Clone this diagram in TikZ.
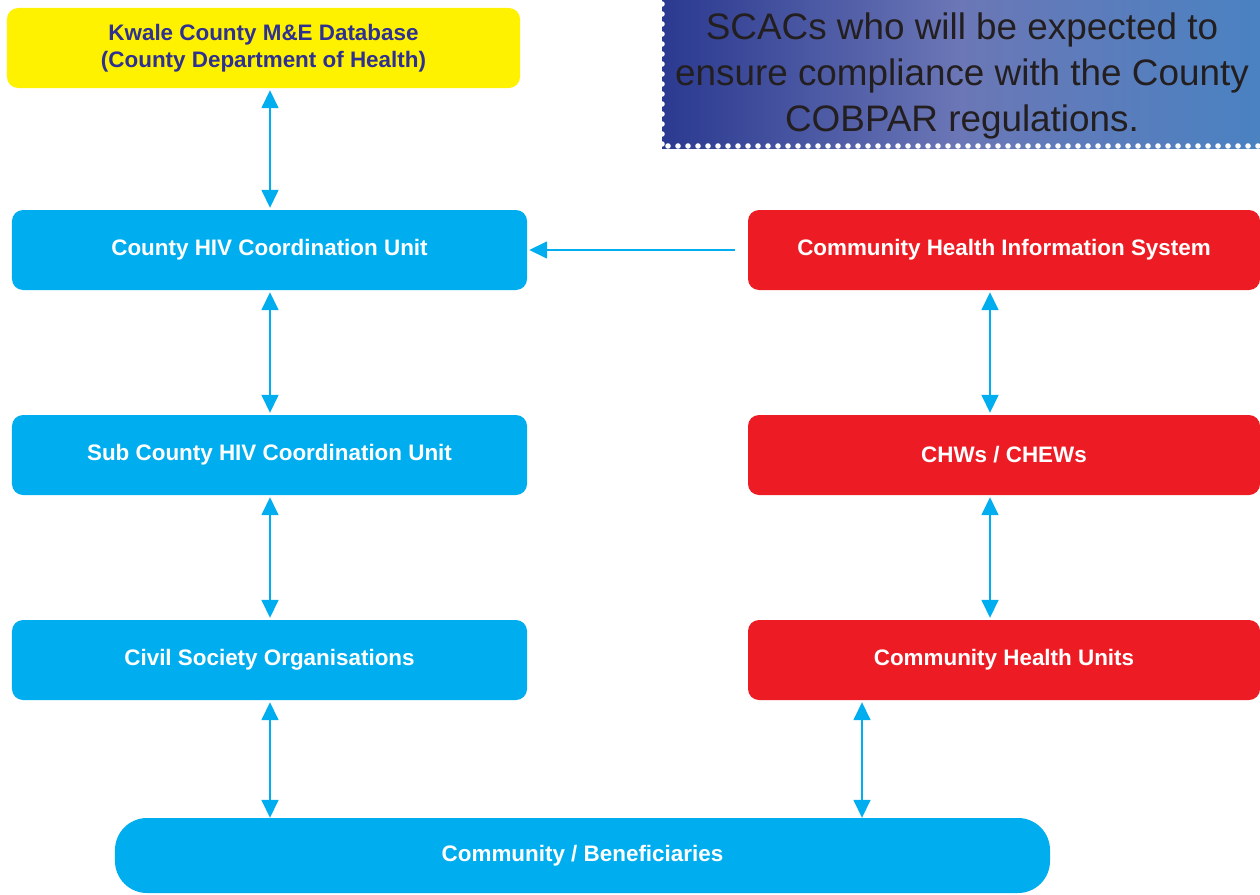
\documentclass[tikz,border=0pt]{standalone}
\usepackage{fontspec}
\setmainfont{Liberation Sans}
\usetikzlibrary{arrows.meta}
\definecolor{cy}{HTML}{00AEEF}
\definecolor{rd}{HTML}{ED1C24}
\definecolor{yl}{HTML}{FFF200}
\definecolor{nv}{HTML}{2E3192}
\definecolor{gL}{HTML}{2B3990}
\definecolor{gM}{HTML}{6B77B6}
\definecolor{gR}{HTML}{4A82C2}
\definecolor{tx}{HTML}{231F20}
\tikzset{
  box/.style={rounded corners=11bp, minimum width=515bp, minimum height=80bp, inner sep=0pt,
    text=white, font=\fontsize{22.5}{27}\selectfont\bfseries},
  bluebox/.style={box, fill=cy},
  redbox/.style={box, fill=rd, minimum width=512bp},
  yelbox/.style={box, fill=yl, text=nv, minimum width=513bp, align=center},
  conn/.style={draw=cy, line width=1.6bp,
    {Triangle[length=18bp,width=17bp]}-{Triangle[length=18bp,width=17bp]}},
  oneway/.style={draw=cy, line width=1.6bp, -{Triangle[length=18bp,width=17bp]}},
  note/.style={text=tx, align=center, font=\fontsize{37}{46}\selectfont, inner sep=0pt},
}
\begin{document}
\begin{tikzpicture}[x=1bp,y=-1bp]
\useasboundingbox (0,0) rectangle (1260,895);
% gradient note box
\shade[left color=gL, right color=gR, middle color=gM] (662,-2) rectangle (1262,148);
\foreach \yy in {4,14,...,144} \fill[white] (662,\yy) circle (2.8bp);
\foreach \xx in {668,678,...,1260} \fill[white] (\xx,146) circle (2.8bp);
\node[note] (txt) at (962,76) {SCACs who will be expected to\\ensure compliance with the County\\COBPAR regulations.};
% nodes
\node[yelbox] (kw) at (263.5,48) {Kwale County M\&E Database\\(County Department of Health)};
\node[bluebox] (chu) at (269.5,250) {County HIV Coordination Unit};
\node[bluebox] (sch) at (269.5,455) {Sub County HIV Coordination Unit};
\node[bluebox] (cso) at (269.5,660) {Civil Society Organisations};
\node[redbox] (chis) at (1004,250) {Community Health Information System};
\node[redbox] (chw) at (1004,455) {CHWs / CHEWs};
\node[redbox] (cun) at (1004,660) {Community Health Units};
\node[box, fill=cy, rounded corners=32bp, minimum width=935bp, minimum height=75bp] (com) at (582.5,855.5) {Community / Beneficiaries};
% connector x positions
\coordinate (xl) at (270,0);
\coordinate (xr) at (990,0);
\coordinate (xb) at (862,0);
\draw[conn, shorten <=2bp, shorten >=2bp] (kw.south -| xl) -- (chu.north -| xl);
\draw[conn, shorten <=2bp, shorten >=2bp] (chu.south -| xl) -- (sch.north -| xl);
\draw[conn, shorten <=2bp, shorten >=2bp] (sch.south -| xl) -- (cso.north -| xl);
\draw[conn, shorten <=2bp, shorten >=0bp] (cso.south -| xl) -- (com.north -| xl);
\draw[oneway, shorten <=13bp, shorten >=2bp] (chis.west) -- (chu.east);
\draw[conn, shorten <=2bp, shorten >=2bp] (chis.south -| xr) -- (chw.north -| xr);
\draw[conn, shorten <=2bp, shorten >=2bp] (chw.south -| xr) -- (cun.north -| xr);
\draw[conn, shorten <=2bp, shorten >=0bp] (cun.south -| xb) -- (com.north -| xb);
\end{tikzpicture}
\end{document}
